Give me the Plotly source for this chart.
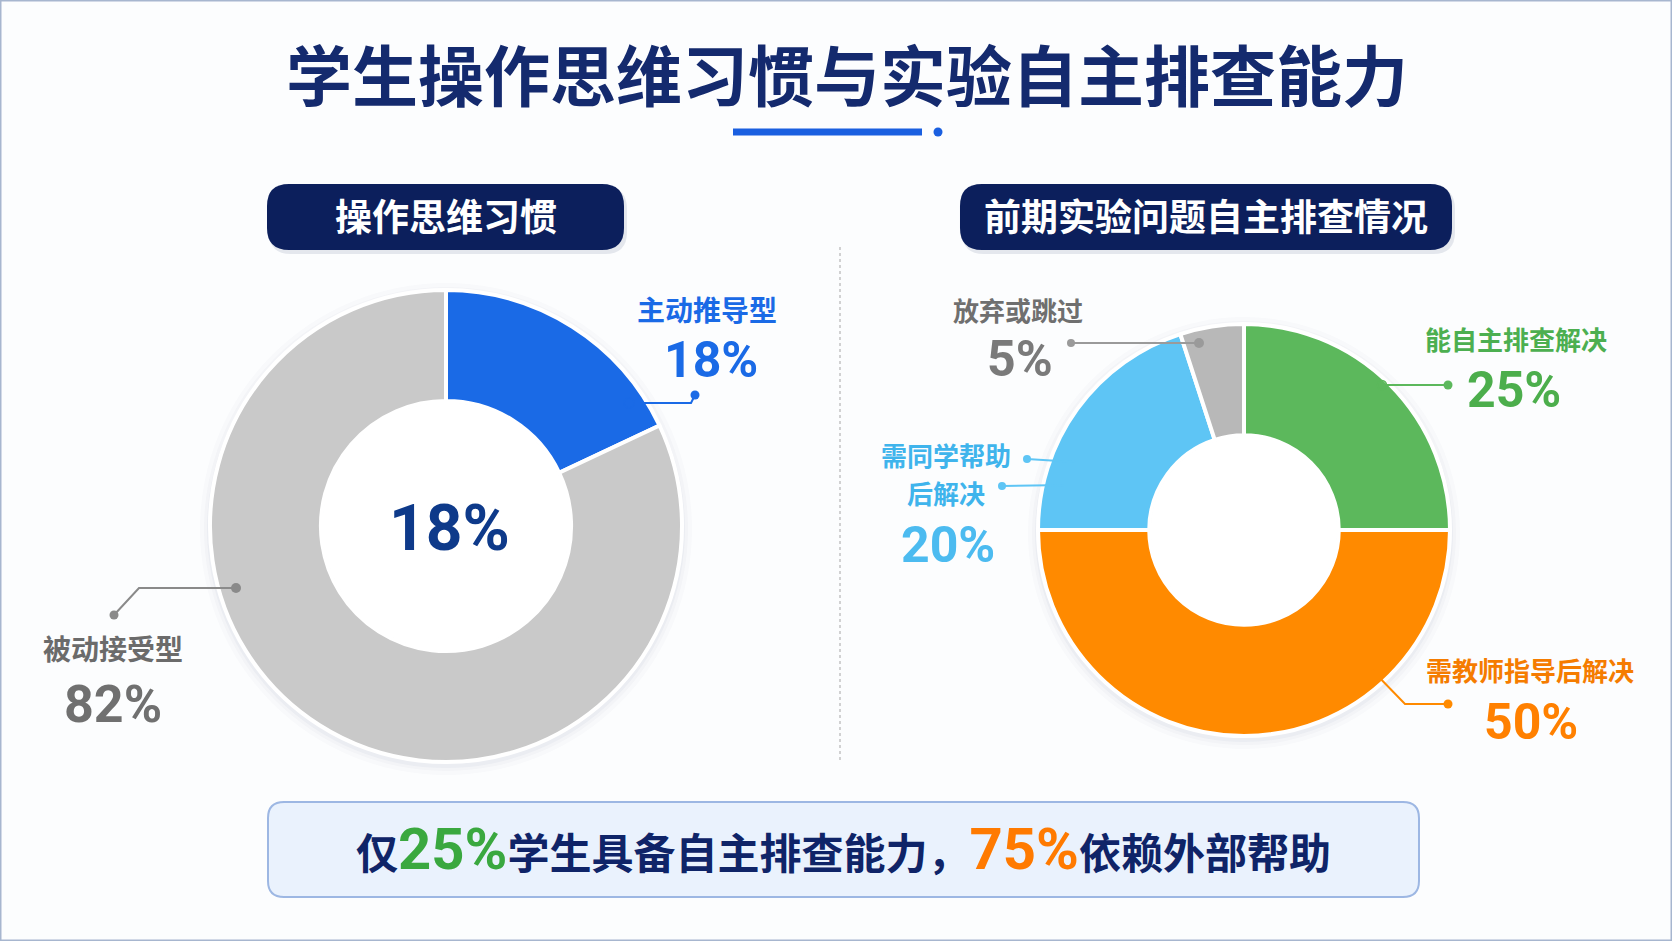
import plotly.graph_objects as go

W, H = 1672, 941

# data
habit_labels = ["主动推导型", "被动接受型"]
habit_values = [18, 82]
habit_colors = ["#1a6ae6", "#c9c9c9"]

check_labels = ["能自主排查解决", "需教师指导后解决", "需同学帮助后解决", "放弃或跳过"]
check_values = [25, 50, 20, 5]
check_colors = ["#5cb85c", "#ff8a00", "#5ec5f5", "#b8b8b8"]

title_text = "学生操作思维习惯与实验自主排查能力"
left_title = "操作思维习惯"
right_title = "前期实验问题自主排查情况"

CJK = "Noto Sans CJK SC"
NUM = "Roboto"


def px(x, y):
    return x / W, 1 - y / H


def rounded_rect(x0, y0, x1, y1, r):
    # path in paper coords, corners done with Q curves
    def p(x, y):
        a, b = px(x, y)
        return f"{a:.5f},{b:.5f}"
    pts = ["M" + p(x0 + r, y0),
           "L" + p(x1 - r, y0), "Q" + p(x1, y0) + " " + p(x1, y0 + r),
           "L" + p(x1, y1 - r), "Q" + p(x1, y1) + " " + p(x1 - r, y1),
           "L" + p(x0 + r, y1), "Q" + p(x0, y1) + " " + p(x0, y1 - r),
           "L" + p(x0, y0 + r), "Q" + p(x0, y0) + " " + p(x0 + r, y0)]
    return " ".join(pts) + " Z"


def circle(cx, cy, r, fill, line=None, lw=0, layer="above"):
    x0, y1 = px(cx - r, cy - r)
    x1, y0 = px(cx + r, cy + r)
    return dict(type="circle", xref="paper", yref="paper", x0=x0, x1=x1, y0=y0, y1=y1,
                fillcolor=fill, line=dict(color=line or fill, width=lw), layer=layer)


def seg(pts, color, width=2):
    path = "M" + " L".join(f"{px(x, y)[0]:.5f},{px(x, y)[1]:.5f}" for x, y in pts)
    return dict(type="path", xref="paper", yref="paper", path=path,
                line=dict(color=color, width=width), layer="above")


def text(x, y, s, size, color, font=CJK, weight="bold"):
    a, b = px(x, y)
    return dict(x=a, y=b, xref="paper", yref="paper", text=s, showarrow=False,
                xanchor="center", yanchor="middle",
                font=dict(family=font, size=size, color=color, weight=weight))


def domain(cx, cy, r):
    xa, yb = px(cx - r, cy + r)
    xb, ya = px(cx + r, cy - r)
    return dict(x=[xa, xb], y=[yb, ya])


fig = go.Figure()

L_C, L_R, L_HOLE = (446, 526), 236, 0.53
R_C, R_R, R_HOLE = (1244, 530), 206, 0.46

fig.add_trace(go.Pie(
    labels=habit_labels, values=habit_values, hole=L_HOLE, sort=False,
    direction="clockwise", rotation=0, textinfo="none", hoverinfo="label+percent",
    marker=dict(colors=habit_colors, line=dict(color="white", width=4)),
    domain=domain(*L_C, L_R), showlegend=False))

fig.add_trace(go.Pie(
    labels=check_labels, values=check_values, hole=R_HOLE, sort=False,
    direction="clockwise", rotation=0, textinfo="none", hoverinfo="label+percent",
    marker=dict(colors=check_colors, line=dict(color="white", width=4)),
    domain=domain(*R_C, R_R), showlegend=False))

shapes = []
# outer frame
shapes.append(dict(type="rect", xref="paper", yref="paper", x0=0, x1=1, y0=0, y1=1,
                   line=dict(color="#a7b6cf", width=3), fillcolor="rgba(0,0,0,0)", layer="below"))

# soft shadows behind donuts, white hole on top of them
for (cx, cy), r, hole in [(L_C, L_R, L_HOLE), (R_C, R_R, R_HOLE)]:
    for k, a in [(10, 0.018), (6, 0.025), (3, 0.035)]:
        shapes.append(circle(cx, cy + 3, r + k, f"rgba(40,60,100,{a})", layer="below"))
    shapes.append(circle(cx, cy, r * hole, "white", "rgba(40,60,100,0.06)", 3, layer="below"))

# title underline
shapes.append(seg([(733, 132), (922, 132)], "#1a5fe0", 7))
shapes.append(circle(938, 132, 4.5, "#1a5fe0"))

# pills
for x0, x1 in [(267, 624), (960, 1452)]:
    shapes.append(dict(type="path", xref="paper", yref="paper", layer="below",
                       path=rounded_rect(x0 + 2, 187, x1 + 3, 254, 22),
                       fillcolor="rgba(20,40,90,0.10)", line=dict(width=0)))
    shapes.append(dict(type="path", xref="paper", yref="paper", layer="below",
                       path=rounded_rect(x0, 184, x1, 250, 22), fillcolor="#0c1f5c",
                       line=dict(width=0)))

# divider
x_div = px(840, 0)[0]
shapes.append(dict(type="line", xref="paper", yref="paper", x0=x_div, x1=x_div,
                   y0=px(0, 760)[1], y1=px(0, 245)[1],
                   line=dict(color="#b5b5b5", width=1.2, dash="dot"), layer="below"))

# bottom box
shapes.append(dict(type="path", xref="paper", yref="paper", layer="below",
                   path=rounded_rect(268, 802, 1419, 897, 16), fillcolor="#eaf2fd",
                   line=dict(color="#9db7e3", width=2)))

# leader lines
blue, gray, green, orange, lblue, g2 = "#1a6ae6", "#8a8a8a", "#5cb85c", "#ff8a00", "#5ec5f5", "#9a9a9a"
shapes.append(seg([(629, 403), (691, 403), (695, 395)], blue))
shapes.append(circle(629, 403, 5, "rgba(0,0,0,0)", blue, 1.5))
shapes.append(circle(695, 395, 4.5, blue))

shapes.append(seg([(236, 588), (139, 588), (114, 615)], gray))
shapes.append(circle(236, 588, 5, gray))
shapes.append(circle(114, 615, 4.5, gray))

shapes.append(seg([(1071, 343), (1199, 343)], g2))
shapes.append(circle(1071, 343, 4, g2))
shapes.append(circle(1199, 343, 5, g2))

shapes.append(seg([(1382, 385), (1448, 385)], green))
shapes.append(circle(1382, 385, 4.5, "rgba(0,0,0,0)", green, 1.5))
shapes.append(circle(1448, 385, 4.5, green))

shapes.append(seg([(1027, 459), (1075, 462)], lblue))
shapes.append(circle(1027, 459, 4, lblue))
shapes.append(seg([(1002, 486), (1066, 485)], lblue))
shapes.append(circle(1002, 486, 4, lblue))

shapes.append(seg([(1372, 670), (1405, 704), (1448, 704)], orange))
shapes.append(circle(1448, 704, 4.5, orange))

fig.update_layout(shapes=shapes)

ann = []
ann.append(text(847, 72, title_text, 66, "#142a6e"))
ann.append(text(446, 215, left_title, 37, "white"))
ann.append(text(1206, 215, right_title, 37, "white"))

ann.append(text(449, 528, f"{habit_values[0]}%", 64, "#0e3a8a", NUM))

ann.append(text(707, 309, habit_labels[0], 28, "#1a6ae6"))
ann.append(text(711, 360, f"{habit_values[0]}%", 50, "#1a6ae6", NUM))
ann.append(text(113, 648, habit_labels[1], 28, "#6b6b6b"))
ann.append(text(113, 704, f"{habit_values[1]}%", 52, "#707070", NUM))

ann.append(text(1516, 338, check_labels[0], 26, "#4caf50"))
ann.append(text(1514, 390, f"{check_values[0]}%", 50, "#4cae4c", NUM))
ann.append(text(1530, 669, check_labels[1], 26, "#f57c00"))
ann.append(text(1531, 722, f"{check_values[1]}%", 50, "#ff8000", NUM))
ann.append(text(946, 455, check_labels[2][:5], 26, "#3fb4ec"))
ann.append(text(946, 492, check_labels[2][5:], 26, "#3fb4ec"))
ann.append(text(948, 545, f"{check_values[2]}%", 50, "#4cbbf0", NUM))
ann.append(text(1018, 309, check_labels[3], 26, "#6f6f6f"))
ann.append(text(1020, 359, f"{check_values[3]}%", 50, "#7a7a7a", NUM))

self_pct = check_values[0]
help_pct = sum(check_values[1:])
bottom = (f"仅<span style='color:#3aa83f;font-size:58px;font-family:{NUM}'>{self_pct}%</span>"
          f"学生具备自主排查能力，"
          f"<span style='color:#ff7a00;font-size:58px;font-family:{NUM}'>{help_pct}%</span>"
          f"依赖外部帮助")
ann.append(text(843, 849, bottom, 42, "#0f2468"))

fig.update_layout(
    annotations=ann,
    width=W, height=H,
    margin=dict(l=0, r=0, t=0, b=0),
    paper_bgcolor="#fcfdfe",
    plot_bgcolor="#fcfdfe",
)

fig.write_html("out.html", config={"displayModeBar": False},
               post_script="document.body.style.margin='0px';")
